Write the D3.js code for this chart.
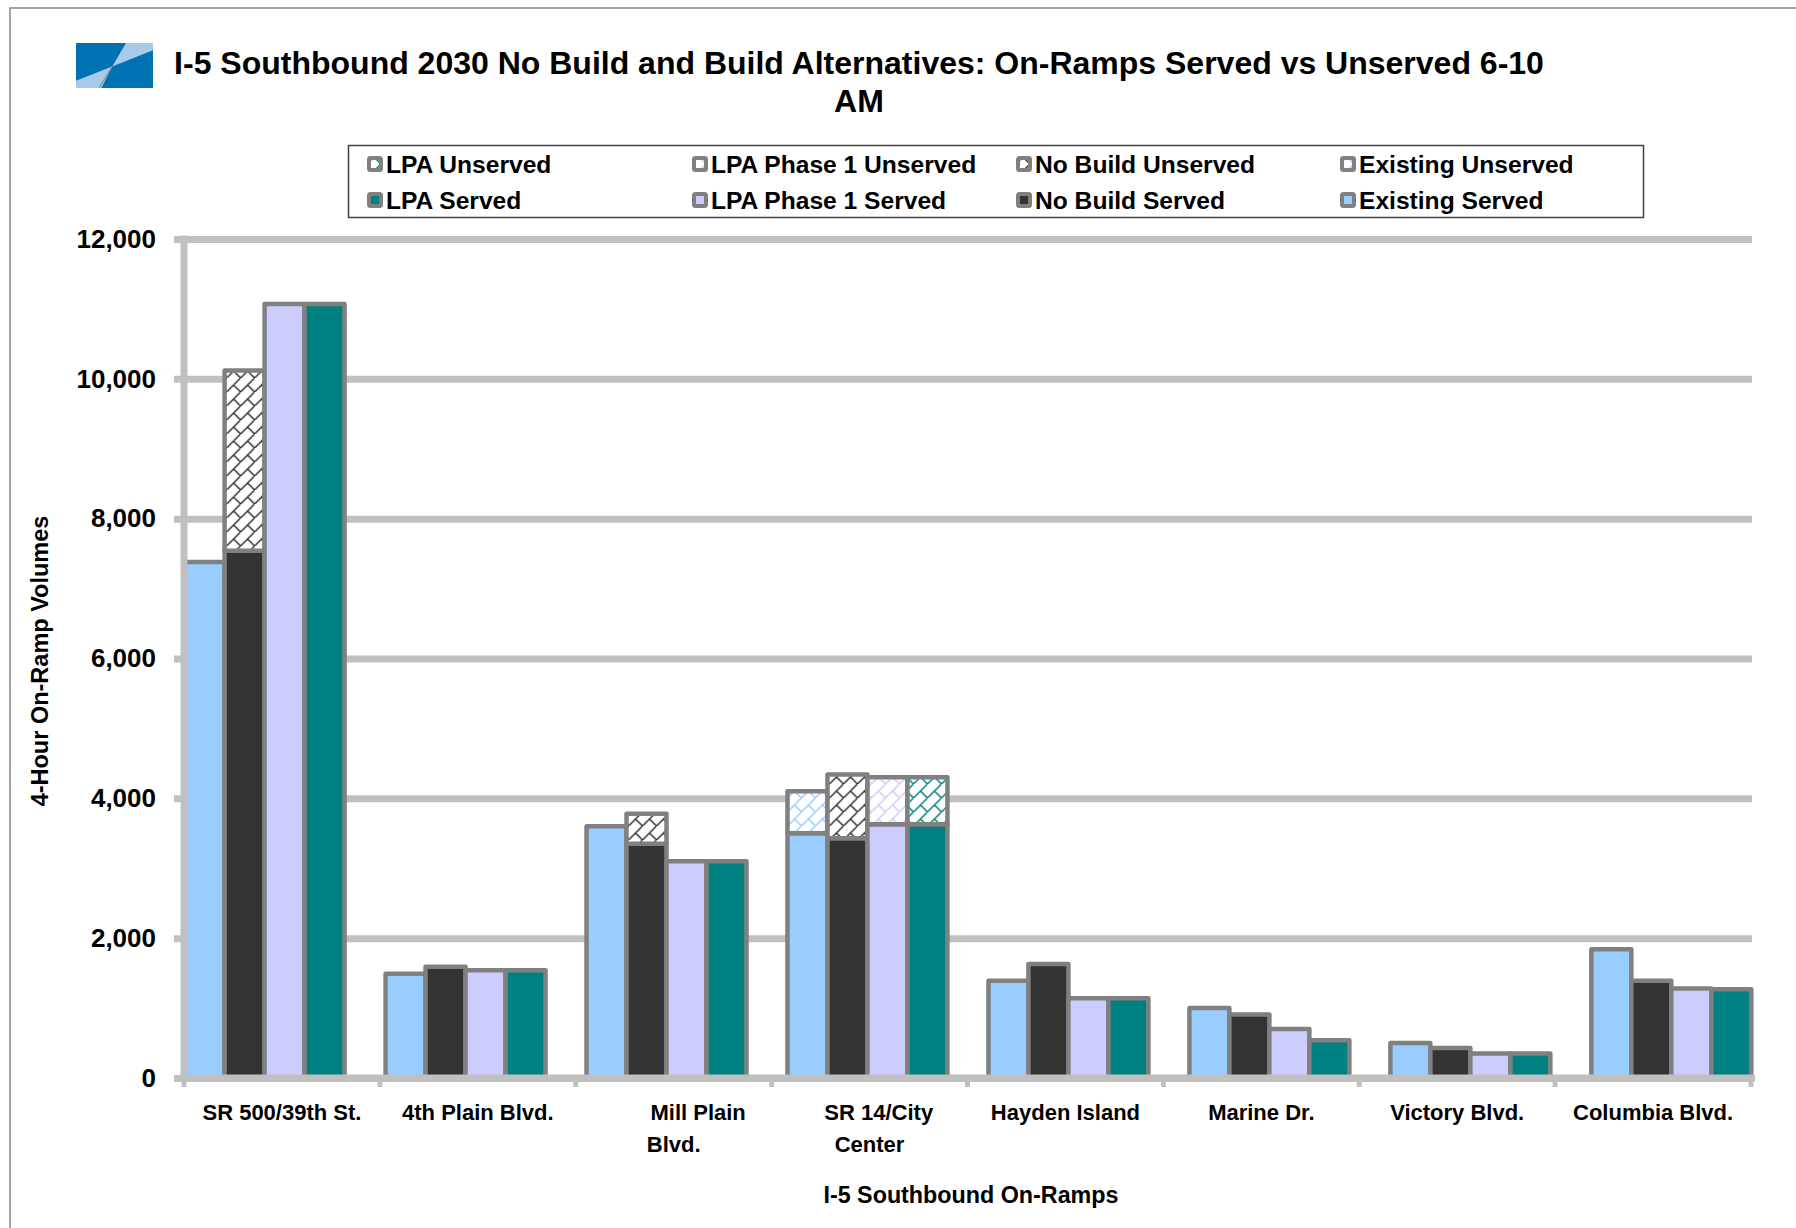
<!DOCTYPE html>
<html>
<head>
<meta charset="utf-8">
<script src="https://cdn.jsdelivr.net/npm/d3@7"></script>
<style>
  html, body { margin: 0; padding: 0; background: #fff; }
  svg text { font-family: "Liberation Sans", Arial, Helvetica, sans-serif; font-weight: bold; fill: #000; white-space: pre; }
</style>
</head>
<body>
<svg id="chart" width="1796" height="1228"></svg>
<script>
// ---- data ----
const titleLines = ["I-5 Southbound 2030 No Build and Build Alternatives: On-Ramps Served vs Unserved 6-10", "AM"];
const categories = ["SR 500/39th St.", "4th Plain Blvd.", "Mill Plain Blvd.", "SR 14/City Center",
                    "Hayden Island", "Marine Dr.", "Victory Blvd.", "Columbia Blvd."];
const categoryLabelLines = [["SR 500/39th St."], ["4th Plain Blvd."], ["        Mill Plain", "Blvd."],
                            ["   SR 14/City", "Center"], ["Hayden Island"], ["Marine Dr."],
                            ["Victory Blvd."], ["Columbia Blvd."]];
const seriesNames = ["Existing", "No Build", "LPA Phase 1", "LPA"];

const existingServed   = [7380, 1490, 3600, 3500, 1390, 1000, 500, 1840];
const existingUnserved = [0, 0, 0, 600, 0, 0, 0, 0];
const noBuildServed    = [7540, 1590, 3350, 3430, 1630, 910, 430, 1390];
const noBuildUnserved  = [2580, 0, 430, 910, 0, 0, 0, 0];
const phase1Served     = [11070, 1540, 3100, 3630, 1140, 700, 350, 1280];
const phase1Unserved   = [0, 0, 0, 670, 0, 0, 0, 0];
const lpaServed        = [11070, 1540, 3100, 3630, 1140, 540, 350, 1270];
const lpaUnserved      = [0, 0, 0, 670, 0, 0, 0, 0];

const yTicks = [0, 2000, 4000, 6000, 8000, 10000, 12000];
const legendOrder = ["LPA", "LPA Phase 1", "No Build", "Existing"];
const yTitle = "4-Hour On-Ramp Volumes";
const xTitle = "I-5 Southbound On-Ramps";

// ---- setup ----
const served   = [existingServed, noBuildServed, phase1Served, lpaServed];
const unserved = [existingUnserved, noBuildUnserved, phase1Unserved, lpaUnserved];
const colors = { "Existing": "#99ccff", "No Build": "#333333", "LPA Phase 1": "#ccccff", "LPA": "#008080" };
const outline = "#808080";
const gridColor = "#c0c0c0";

const svg = d3.select("#chart");
svg.append("rect").attr("width", 1796).attr("height", 1228).attr("fill", "#fff");

// outer frame (top and left edges visible)
svg.append("path").attr("d", "M10,1228V8H1796").attr("fill", "none")
  .attr("stroke", "#888").attr("stroke-width", 1.5);

// diagonal-brick hatch patterns for unserved volumes
const T = 14;
const defs = svg.append("defs");
seriesNames.forEach((s, i) => {
  const p = defs.append("pattern").attr("id", "hatch" + i)
    .attr("patternUnits", "userSpaceOnUse").attr("width", T).attr("height", T);
  p.append("rect").attr("width", T).attr("height", T).attr("fill", "#fff");
  p.append("path").attr("d", `M-1,${T + 1}L${T + 1},-1M${T / 2},${T / 2}L${T + 1},${T + 1}`)
    .attr("stroke", colors[s]).attr("stroke-width", 1.5).attr("fill", "none");
});

// logo
const logo = svg.append("g").attr("transform", "translate(76,43)");
const lw = 77, lh = 45;
logo.append("rect").attr("width", lw).attr("height", lh).attr("fill", "#0071b3");
logo.append("path").attr("fill", "#a9c9e8")
  .attr("d", `M${0.65*lw},0H${lw}V${0.16*lh}L${0.47*lw},${0.52*lh}Z`);
logo.append("path").attr("fill", "#a9c9e8")
  .attr("d", `M${0.47*lw},${0.52*lh}L${0.33*lw},${lh}H0V${0.84*lh}Z`);
logo.append("path").attr("stroke", "#8c8c8c").attr("stroke-width", 1.2)
  .attr("d", `M${0.47*lw},${0.52*lh}L${0.3*lw},${lh}`);

// title
svg.append("g").selectAll("text").data(titleLines).join("text")
  .attr("x", 859).attr("y", (d, i) => 74 + i * 38)
  .attr("text-anchor", "middle").attr("font-size", 32).text(d => d);

// scales
const y = d3.scaleLinear().domain([0, 12000]).range([1078, 239]);
const xTick = d3.scaleBand().domain(categories).range([184, 1751]);
const xBar = d3.scaleBand().domain(categories).range([184.6, 1751.3]).paddingInner(0.204);
const xInner = d3.scaleBand().domain(seriesNames).range([0, xBar.bandwidth()]);

// gridlines
svg.append("g").attr("transform", "translate(174,0)")
  .call(d3.axisLeft(y).tickValues(yTicks).tickSize(-(1752 - 174)).tickFormat(""))
  .call(g => g.select(".domain").remove())
  .call(g => g.selectAll(".tick line").attr("stroke", gridColor).attr("stroke-width", 7));

// bars: served volume with unserved volume stacked on top
const groups = svg.append("g").selectAll("g").data(categories).join("g")
  .attr("transform", c => `translate(${xBar(c)},0)`);

groups.each(function (c, ci) {
  const g = d3.select(this);
  seriesNames.forEach((s, si) => {
    const sv = served[si][ci], uv = unserved[si][ci];
    g.append("rect")
      .attr("x", xInner(s)).attr("width", xInner.bandwidth())
      .attr("y", y(sv)).attr("height", y(0) - y(sv))
      .attr("fill", colors[s]).attr("stroke", outline).attr("stroke-width", 4.5)
      .attr("stroke-linejoin", "round");
    if (uv > 0) {
      g.append("rect")
        .attr("x", xInner(s)).attr("width", xInner.bandwidth())
        .attr("y", y(sv + uv)).attr("height", y(sv) - y(sv + uv))
        .attr("fill", `url(#hatch${si})`).attr("stroke", outline).attr("stroke-width", 4.5)
        .attr("stroke-linejoin", "round");
    }
  });
});

// y axis with labels
svg.append("g").attr("transform", "translate(184,0)")
  .call(d3.axisLeft(y).tickValues(yTicks).tickSize(0).tickPadding(28).tickFormat(d3.format(",")))
  .call(g => g.select(".domain").remove())
  .call(g => g.selectAll("text").attr("font-size", 26).attr("font-family", null).attr("fill", "#000"));
svg.append("line").attr("x1", 184).attr("x2", 184).attr("y1", 235.5).attr("y2", 1081.5)
  .attr("stroke", gridColor).attr("stroke-width", 7);

// x axis line and category boundary ticks
svg.append("line").attr("x1", 180.5).attr("x2", 1755).attr("y1", 1078).attr("y2", 1078)
  .attr("stroke", gridColor).attr("stroke-width", 7);
const tickPos = categories.map(c => xTick(c)).concat([xTick.range()[1]]);
svg.append("g").selectAll("line").data(tickPos).join("line")
  .attr("x1", d => d).attr("x2", d => d).attr("y1", 1078).attr("y2", 1087)
  .attr("stroke", gridColor).attr("stroke-width", 5);

// category labels
const labels = svg.append("g").selectAll("text").data(categories).join("text")
  .attr("text-anchor", "middle").attr("font-size", 22)
  .attr("transform", c => `translate(${xTick(c) + xTick.bandwidth() / 2},1120)`);
labels.selectAll("tspan").data((c, i) => categoryLabelLines[i]).join("tspan")
  .attr("x", 0).attr("y", (d, i) => i * 32).text(d => d);

// axis titles
svg.append("text").attr("x", 971).attr("y", 1203).attr("text-anchor", "middle")
  .attr("font-size", 23.3).text(xTitle);
svg.append("text").attr("transform", "translate(48,661) rotate(-90)")
  .attr("text-anchor", "middle").attr("font-size", 23.5).text(yTitle);

// legend
const legend = svg.append("g");
legend.append("rect").attr("x", 348.5).attr("y", 145.5).attr("width", 1295).attr("height", 72)
  .attr("fill", "#fff").attr("stroke", "#404040").attr("stroke-width", 1.5);
const colX = [367, 692, 1016, 1340];
const rowY = [164, 200];
["Unserved", "Served"].forEach((kind, r) => {
  legendOrder.forEach((s, c) => {
    const si = seriesNames.indexOf(s);
    const item = legend.append("g").attr("transform", `translate(${colX[c]},${rowY[r]})`);
    item.append("rect").attr("x", 2).attr("y", -6).attr("width", 12).attr("height", 12).attr("rx", 1.5)
      .attr("fill", kind === "Served" ? colors[s] : `url(#hatch${si})`)
      .attr("stroke", outline).attr("stroke-width", 4);
    item.append("text").attr("x", 19).attr("y", 9).attr("font-size", 24.6).text(`${s} ${kind}`);
  });
});
</script>
</body>
</html>
